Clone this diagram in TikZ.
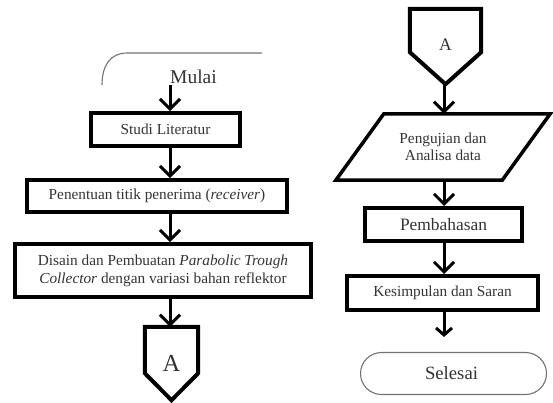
\documentclass[tikz,border=0pt]{standalone}
\usepackage{fontspec}
\setmainfont{Liberation Serif}
\usetikzlibrary{arrows.meta}
\definecolor{inkgray}{gray}{0.2}
\definecolor{termgray}{gray}{0.45}

\tikzset{
	proc/.style 2 args={draw, line width=4pt, minimum width=#1, minimum height=#2, inner sep=0pt, align=center, text=inkgray, font=\fontsize{15.3}{18}\selectfont},
	frame/.style 2 args={minimum width=#1, minimum height=#2, inner sep=0pt, text=inkgray},
	term/.style={draw=termgray, line width=1.1pt, rounded corners=21pt, minimum width=186pt, minimum height=42pt, inner sep=0pt, text=inkgray, font=\fontsize{18.7}{20}\selectfont},
	flow/.style={line width=3pt, -{Straight Barb[length=10pt,width=20pt]}},
}

\begin{document}
\begin{tikzpicture}[x=1pt, y=-1pt]
	\useasboundingbox (0,0) rectangle (553,402);

	% Columns of the arrows
	\coordinate (colL) at (170,0);
	\coordinate (colR) at (444,0);

	% Left column
	\draw[termgray, line width=1.1pt] (102,85) .. controls (102,66) and (110,53) .. (127,53) -- (262,53);
	\node[text=inkgray, font=\fontsize{19.5}{20}\selectfont, inner sep=1pt] (mulai) at (193.5,77) {Mulai};
	\node[proc={149pt}{33pt}] (studi) at (165.5,129.5) {Studi Literatur};
	\node[proc={260pt}{32pt}] (titik) at (157,196) {Penentuan titik penerima (\textit{receiver})};
	\node[proc={296pt}{53pt}] (disain) at (163,270.5) {Disain dan Pembuatan \textit{Parabolic Trough}\\\textit{Collector} dengan variasi bahan reflektor};
	\node[frame={53pt}{73pt}, font=\fontsize{24.5}{26}\selectfont] (offA) at (171.5,363.5) {A};
	\draw[line width=4pt, line join=miter] (offA.north west) -- (offA.north east) -- ([yshift=27pt]offA.south east) -- (offA.south) -- ([yshift=27pt]offA.south west) -- cycle;

	% Right column
	\node[frame={71pt}{75pt}, font=\fontsize{17.6}{19}\selectfont] (offB) at (445.5,46.5) {\raisebox{4pt}{A}};
	\draw[line width=4pt, line join=miter] (offB.north west) -- (offB.north east) -- ([yshift=32pt]offB.south east) -- (offB.south) -- ([yshift=32pt]offB.south west) -- cycle;
	\node[frame={166pt}{66pt}, align=center, font=\fontsize{15.3}{16.5}\selectfont] (data) at (443,147) {Pengujian dan\\Analisa data};
	\draw[line width=3.5pt, line join=miter] ([xshift=24pt]data.north west) -- ([xshift=24pt]data.north east) -- ([xshift=-24pt]data.south east) -- ([xshift=-24pt]data.south west) -- cycle;
	\node[proc={157pt}{33pt}, font=\fontsize{17.4}{19}\selectfont] (bahas) at (443.5,224.5) {Pembahasan};
	\node[proc={191pt}{34pt}] (simpul) at (442.5,293) {Kesimpulan dan Saran};
	\node[term] (selesai) at (453.5,373.5) {\hspace*{-4pt}Selesai};

	% Arrows
	\draw[flow] (mulai.south -| colL) -- (studi.north -| colL);
	\draw[flow] (studi.south -| colL) -- (titik.north -| colL);
	\draw[flow] (titik.south -| colL) -- (disain.north -| colL);
	\draw[flow] (disain.south -| colL) -- (offA.north -| colL);
	\draw[flow] (offB.south -| colR) -- (data.north -| colR);
	\draw[flow] (data.south -| colR) -- (bahas.north -| colR);
	\draw[flow] (bahas.south -| colR) -- (simpul.north -| colR);
	\draw[line width=3pt, -{Straight Barb[length=7pt,width=16pt]}, shorten >=15pt] (simpul.south -| colR) -- (selesai.north -| colR);

\end{tikzpicture}
\end{document}
